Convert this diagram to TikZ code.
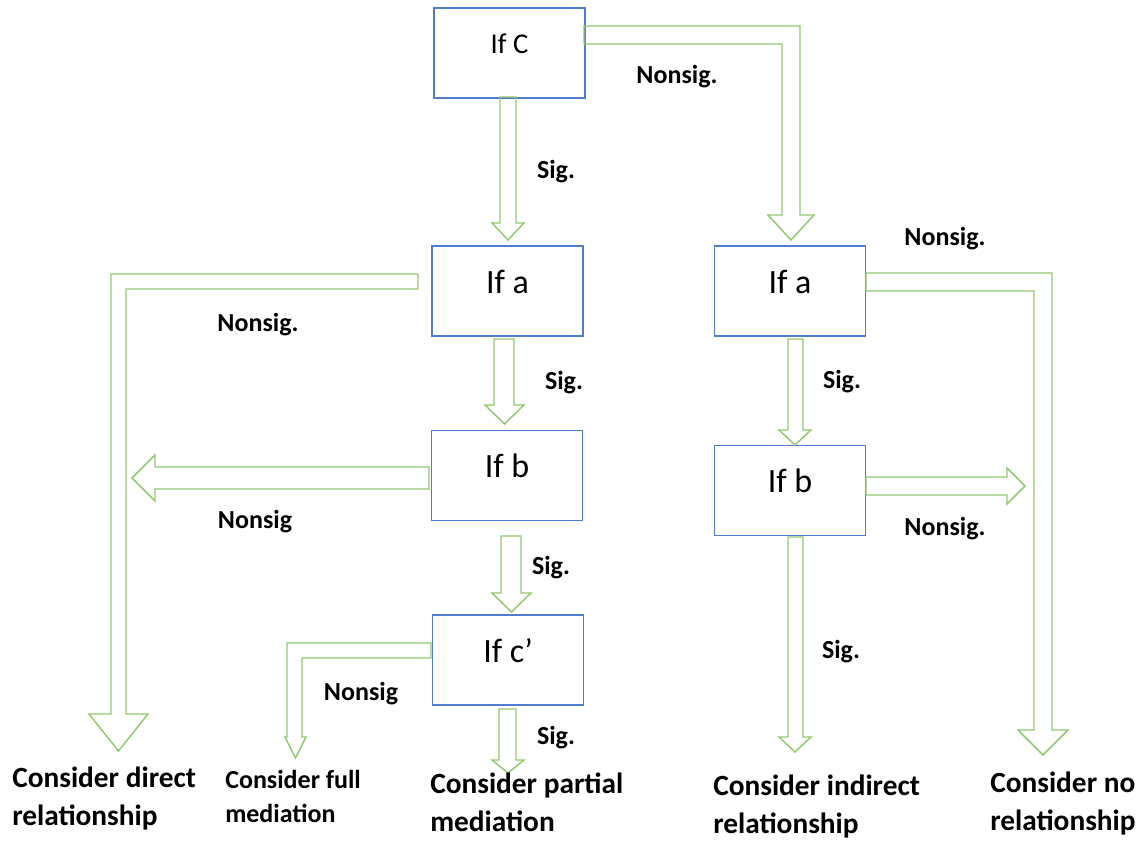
\documentclass[tikz,border=0pt]{standalone}
\usepackage{fontspec}
\setmainfont{Carlito}
\definecolor{boxblue}{RGB}{80,125,205}
\definecolor{arrgreen}{RGB}{146,200,110}
\begin{document}
\begin{tikzpicture}[x=0.75pt,y=-0.75pt,
  box/.style={draw=boxblue, line width=0.9pt, minimum width=113.25pt, minimum height=67.5pt,
    inner sep=0pt, font=\fontsize{25.5}{30}\selectfont, text height=12pt, text depth=9pt},
  topbox/.style={box, font=\fontsize{21.5}{26}\selectfont, text height=9pt, text depth=7.5pt},
  barrow/.style={draw=arrgreen, line width=1.1pt, line join=miter},
  lbl/.style={font=\bfseries\fontsize{19.5}{23}\selectfont, anchor=base, inner sep=0pt},
  res/.style={font=\bfseries\fontsize{22}{29}\selectfont, anchor=base west, inner sep=0pt},
  ressmall/.style={font=\bfseries\fontsize{19.5}{26}\selectfont, anchor=base west, inner sep=0pt}]
\useasboundingbox (0,0) rectangle (1147,842);

% boxes
\node[topbox] (ifC)  at (509.5,53)  {If C};
\node[box]    (ifaL) at (507.5,291) {If a};
\node[box]    (ifaR) at (790,291)   {If a};
\node[box]    (ifbL) at (507,475.5) {If b};
\node[box]    (ifbR) at (790,490.5) {If b};
\node[box]    (ifcp) at (508,660)   {If c’};

% block arrows
\draw[barrow] (500,97)--(516,97)--(516,223)--(524,223)--(508,240)--(492,223)--(500,223)--cycle;
\draw[barrow] (584,26)--(800,26)--(800,215)--(814,215)--(791,240)--(768,215)--(782,215)--(782,44)--(584,44)--cycle;
\draw[barrow] (418,274)--(418,289)--(126,289)--(126,714)--(148,714)--(118.5,751)--(89,714)--(111,714)--(111,274)--cycle;
\draw[barrow] (494,339)--(514,339)--(514,405)--(524,405)--(504.5,424)--(485,405)--(494,405)--cycle;
\draw[barrow] (429,467)--(429,489)--(155,489)--(155,501)--(132,478)--(155,455)--(155,467)--cycle;
\draw[barrow] (501,536)--(521,536)--(521,593)--(531,593)--(511.5,612)--(492,593)--(501,593)--cycle;
\draw[barrow] (431,643)--(431,658)--(302,658)--(302,737)--(306,737)--(295.5,758)--(285,737)--(287,737)--(287,643)--cycle;
\draw[barrow] (499,709)--(516,709)--(516,760)--(524,760)--(508,773)--(492,760)--(499,760)--cycle;
\draw[barrow] (788,339)--(803,339)--(803,430)--(811,430)--(795,445)--(779,430)--(788,430)--cycle;
\draw[barrow] (866,273)--(1052,273)--(1052,730)--(1068,730)--(1043,755)--(1018,730)--(1034,730)--(1034,291)--(866,291)--cycle;
\draw[barrow] (866,477)--(1007,477)--(1007,468)--(1025,486)--(1007,504)--(1007,495)--(866,495)--cycle;
\draw[barrow] (788,537)--(803,537)--(803,737)--(811,737)--(795,752)--(779,737)--(788,737)--cycle;

% labels
\node[lbl] (l1)  at (677,84)  {Nonsig.};
\node[lbl] (l2)  at (556,178) {Sig.};
\node[lbl] (l3)  at (945,245) {Nonsig.};
\node[lbl] (l4)  at (258,331) {Nonsig.};
\node[lbl] (l5)  at (564,389) {Sig.};
\node[lbl] (l6)  at (842,388) {Sig.};
\node[lbl] (l7)  at (255,528) {Nonsig};
\node[lbl] (l8)  at (945,535) {Nonsig.};
\node[lbl] (l9)  at (551,574) {Sig.};
\node[lbl] (l10) at (361,700) {Nonsig};
\node[lbl] (l11) at (556,744) {Sig.};
\node[lbl] (l12) at (841,658) {Sig.};

% results
\node[res] (rdirect) at (12,787) {\begin{tabular}[t]{@{}l@{}}Consider direct\\relationship\end{tabular}};
\node[ressmall] (rfull) at (225,788) {\begin{tabular}[t]{@{}l@{}}Consider full\\mediation\end{tabular}};
\node[res] (rpartial) at (430,793) {\begin{tabular}[t]{@{}l@{}}Consider partial\\mediation\end{tabular}};
\node[res] (rindirect) at (713,795) {\begin{tabular}[t]{@{}l@{}}Consider indirect\\relationship\end{tabular}};
\node[res] (rno) at (990,792) {\begin{tabular}[t]{@{}l@{}}Consider no\\relationship\end{tabular}};
\end{tikzpicture}
\end{document}
